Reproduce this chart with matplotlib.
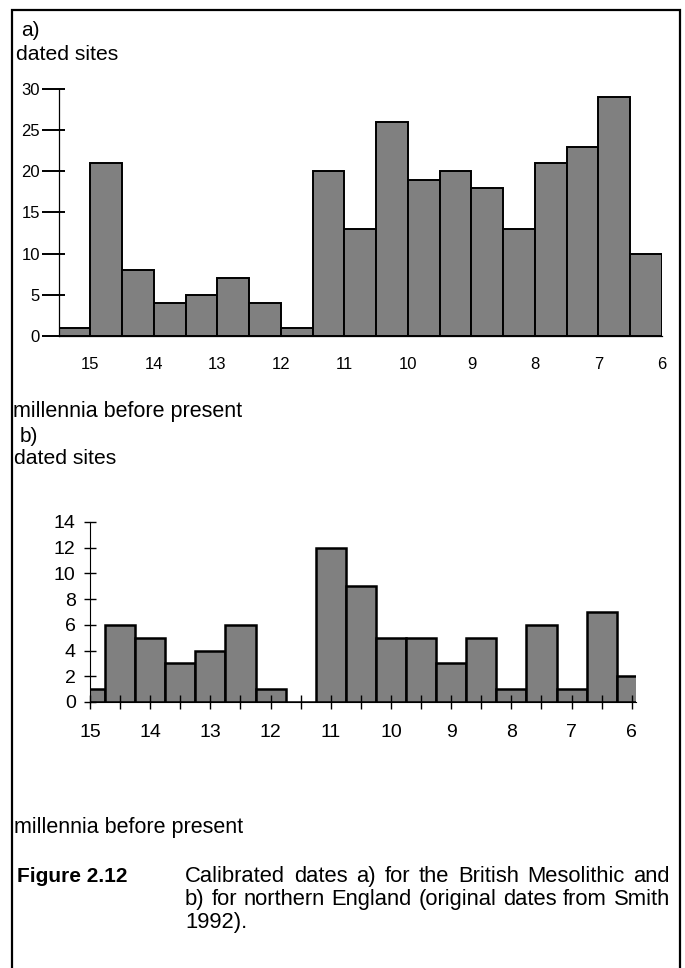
import matplotlib
matplotlib.use("Agg")
import matplotlib.pyplot as plt
from matplotlib.patches import Rectangle

plt.rcParams["font.family"] = ["Liberation Sans", "DejaVu Sans"]

# a) British Mesolithic, bins of 500 years from 15.5 to 6 ka
sites_a = [1, 21, 8, 4, 5, 7, 4, 1, 20, 13, 26, 19, 20, 18, 13, 21, 23, 29, 10]
# b) northern England, bins centred on each half millennium from 15 to 6 ka
sites_b = [1, 6, 5, 3, 4, 6, 1, 0, 12, 9, 5, 5, 3, 5, 1, 6, 1, 7, 2]
millennia = [15, 14, 13, 12, 11, 10, 9, 8, 7, 6]
yticks_a = [0, 5, 10, 15, 20, 25, 30]
yticks_b = [0, 2, 4, 6, 8, 10, 12, 14]

W, H = 685, 968
fig = plt.figure(figsize=(W / 100, H / 100), dpi=100)


def box(left, top, right, bottom):
    return [left / W, 1 - bottom / H, (right - left) / W, (bottom - top) / H]


# frame round the whole figure
fig.patches.append(Rectangle((12 / W, -0.01), (680 - 12) / W, 1 - 10 / H + 0.01,
                             transform=fig.transFigure, fill=False,
                             edgecolor="black", linewidth=1.6))

# ---- panel a
ax1 = fig.add_axes(box(58.7, 89, 662, 336))
x_a = [15.25 - 0.5 * i for i in range(len(sites_a))]
ax1.bar(x_a, sites_a, width=0.5, color="#808080", edgecolor="black", linewidth=1.4)
ax1.set_xlim(15.5, 6.0)
ax1.set_ylim(0, 30)
ax1.set_yticks(yticks_a)
# short inner stub of each y tick
ax1.set_yticks(yticks_a, minor=True)
ax1.yaxis.remove_overlapping_locs = False
ax1.set_xticks(millennia)
ax1.tick_params(axis="y", direction="out", length=12, width=1.4, labelsize=12, pad=1.5)
ax1.tick_params(axis="y", which="minor", direction="in", length=4, width=1.4)
ax1.tick_params(axis="x", length=0, labelsize=12, pad=15)
for s in ["top", "right"]:
    ax1.spines[s].set_visible(False)
ax1.spines["left"].set_linewidth(0.9)
ax1.spines["bottom"].set_linewidth(0.9)

# ---- panel b
ax2 = fig.add_axes(box(90, 522, 636, 702))
x_b = [15 - 0.5 * i for i in range(len(sites_b))]
ax2.bar(x_b, sites_b, width=0.5, color="#808080", edgecolor="black", linewidth=1.8)
ax2.set_xlim(15, 5.93)
ax2.set_ylim(0, 14)
ax2.set_yticks(yticks_b)
ax2.set_xticks(millennia)
ax2.set_xticks([m - 0.5 for m in millennia[:-1]], minor=True)
ax2.tick_params(axis="y", direction="inout", length=8.6, width=1, labelsize=14, pad=6)
ax2.tick_params(axis="x", which="both", direction="inout", length=9.4, width=1,
                labelsize=14, pad=11)
for s in ["top", "right"]:
    ax2.spines[s].set_visible(False)


# ---- texts
def label(x, y, s, va="center", **kw):
    return fig.text(x / W, 1 - y / H, s, va=va, ha="left", **kw)


label(21, 31, "a)", fontsize=15)
label(16, 55, "dated sites", fontsize=15.2)
label(13, 412, "millennia before present", fontsize=15.5)
label(20, 436, "b)", fontsize=15)
label(14, 459, "dated sites", fontsize=15.2)
label(14, 828, "millennia before present", fontsize=15.5)

# caption, justified between x=185 and x=670 except the last line
caption = ["Calibrated dates a) for the British Mesolithic and",
           "b) for northern England (original dates from Smith",
           "1992)."]
cap_left, cap_right = 185, 670
base = 882
label(17, base, "Figure 2.12", va="baseline", fontsize=15, fontweight="bold")

renderer = fig.canvas.get_renderer()
for i, line in enumerate(caption):
    y = base + 23 * i
    if i == len(caption) - 1:
        label(cap_left, y, line, va="baseline", fontsize=15.8)
        continue
    words = line.split()
    texts = [label(0, y, w, va="baseline", fontsize=15.8) for w in words]
    widths = [t.get_window_extent(renderer).width for t in texts]
    gap = (cap_right - cap_left - sum(widths)) / (len(words) - 1)
    x = cap_left
    for t, w in zip(texts, widths):
        t.set_x(x / W)
        x += w + gap

fig.savefig("out.png", dpi=100)
